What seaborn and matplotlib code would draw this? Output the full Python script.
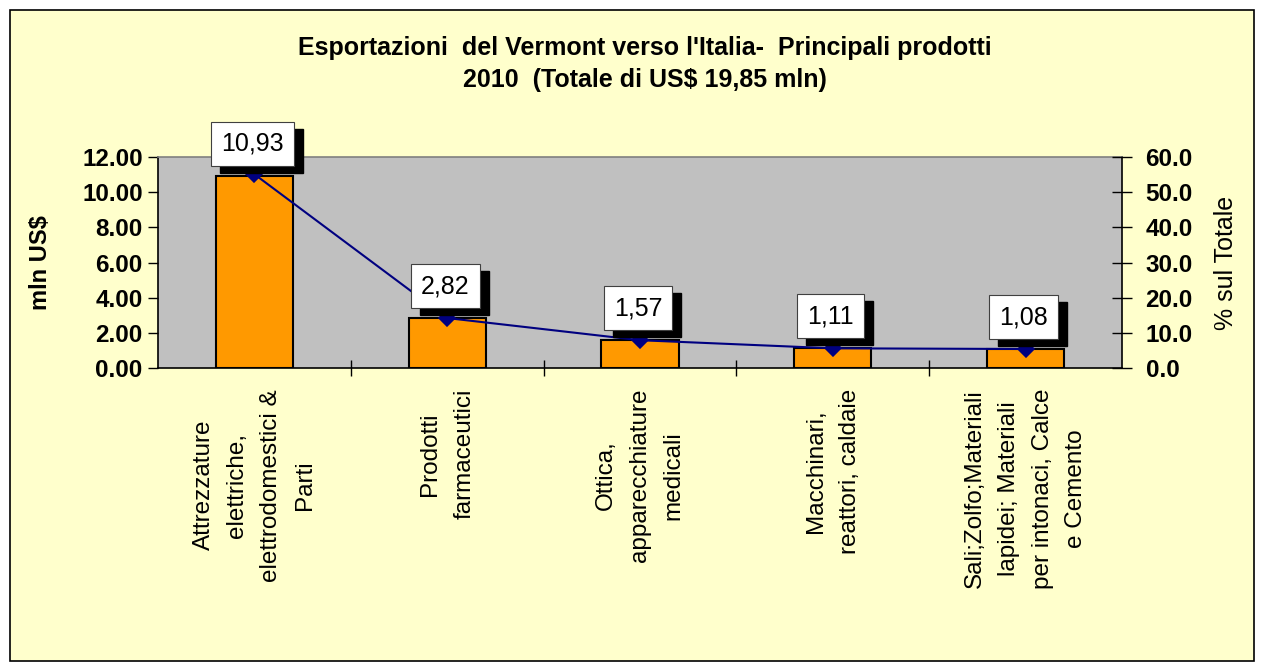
import matplotlib
matplotlib.use("Agg")
import matplotlib.pyplot as plt
import seaborn as sns
import pandas as pd
from matplotlib.patches import Rectangle
from matplotlib.ticker import FormatStrFormatter, FixedLocator

categories = [
    "Attrezzature\nelettriche,\nelettrodomestici &\nParti",
    "Prodotti\nfarmaceutici",
    "Ottica,\napparecchiature\nmedicali",
    "Macchinari,\nreattori, caldaie",
    "Sali;Zolfo;Materiali\nlapidei; Materiali\nper intonaci, Calce\ne Cemento",
]
values = [10.93, 2.82, 1.57, 1.11, 1.08]
value_labels = ["10,93", "2,82", "1,57", "1,11", "1,08"]
percent = [55.1, 14.2, 7.9, 5.6, 5.4]
left_ticks = [0, 2, 4, 6, 8, 10, 12]
right_ticks = [0, 10, 20, 30, 40, 50, 60]
title = "Esportazioni  del Vermont verso l'Italia-  Principali prodotti\n2010  (Totale di US$ 19,85 mln)"

sns.set_style("white")
plt.rcParams["font.family"] = ["Liberation Sans", "DejaVu Sans"]
plt.rcParams["text.color"] = "black"
plt.rcParams["xtick.color"] = "black"
plt.rcParams["ytick.color"] = "black"
plt.rcParams["axes.labelcolor"] = "black"

W, H = 1264, 671
fig = plt.figure(figsize=(W / 100, H / 100), dpi=100)
fig.patch.set_facecolor("white")
bg = Rectangle((10 / W, 10 / H), 1244 / W, 651 / H, transform=fig.transFigure,
               facecolor="#FFFFCC", edgecolor="black", linewidth=1.2, zorder=-10)
fig.patches.append(bg)

ax = fig.add_axes([158 / W, 1 - 368 / H, 964 / W, 211 / H])
ax.set_zorder(1)
ax.set_facecolor("#C0C0C0")
df = pd.DataFrame({"cat": categories, "val": values, "pct": percent})
sns.barplot(data=df, x="cat", y="val", color="#FF9900", edgecolor="black", linewidth=1.5,
            width=0.4, saturation=1, ax=ax)
ax.set_ylim(0, 12)
ax.set_xlim(-0.5, 4.5)
ax.yaxis.set_major_locator(FixedLocator(left_ticks))
ax.yaxis.set_major_formatter(FormatStrFormatter("%.2f"))
ax.tick_params(axis="y", direction="out", length=7, width=1, labelsize=17.5, pad=4, left=True)
for t in ax.get_yticklabels():
    t.set_fontweight("bold")
ax.set_xticks(range(len(categories)))
ax.set_xticklabels(categories, rotation=90, ha="center", va="top", multialignment="center",
                   fontsize=17.5, linespacing=1.7)
ax.tick_params(axis="x", length=0, pad=15)
ax.set_xticks([0.5, 1.5, 2.5, 3.5], minor=True)
ax.tick_params(axis="x", which="minor", direction="inout", length=12, width=1, bottom=True)
ax.set_xlabel("")
ax.set_ylabel("mln US$", fontsize=17, fontweight="bold", labelpad=22)
for s in ["left", "bottom", "right"]:
    ax.spines[s].set_color("black")
    ax.spines[s].set_linewidth(1.2)
ax.spines["top"].set_color("#808080")
ax.spines["top"].set_linewidth(1.2)

ax2 = ax.twinx()
ax2.set_zorder(2)
sns.pointplot(data=df, x="cat", y="pct", color="#000080", markers="D", linestyles="-",
              markersize=8, linewidth=1.5, ax=ax2)
ax2.set_ylim(0, 60)
ax2.set_xlim(-0.5, 4.5)
ax2.yaxis.set_major_locator(FixedLocator(right_ticks))
ax2.yaxis.set_major_formatter(FormatStrFormatter("%.1f"))
ax2.tick_params(axis="y", direction="inout", length=14, width=1, labelsize=17.5, pad=10, right=True)
for t in ax2.get_yticklabels():
    t.set_fontweight("bold")
ax2.set_ylabel("% sul Totale", fontsize=18, labelpad=15)
ax2.set_xlabel("")
for s in ax2.spines.values():
    s.set_visible(False)

fs = 18
pad = 0.4
pad_px = pad * fs * 100 / 72
for i, (v, lab) in enumerate(zip(values, value_labels)):
    ax2.annotate(lab, xy=(i, v), xycoords=ax.transData, xytext=(7, 10 + pad_px - 7),
                 textcoords="offset pixels", ha="center", va="bottom", fontsize=fs, color="black",
                 bbox=dict(boxstyle=f"square,pad={pad}", facecolor="black", edgecolor="black"),
                 zorder=5)
    ax2.annotate(lab, xy=(i, v), xycoords=ax.transData, xytext=(-2, 10 + pad_px),
                 textcoords="offset pixels", ha="center", va="bottom", fontsize=fs, color="black",
                 bbox=dict(boxstyle=f"square,pad={pad}", facecolor="white", edgecolor="#404040",
                           linewidth=0.8),
                 zorder=6)

fig.text(645 / W, 1 - 64 / H, title, ha="center", va="center", fontsize=18, fontweight="bold",
         linespacing=1.4)

fig.savefig("out.png", dpi=100, facecolor=fig.get_facecolor())
